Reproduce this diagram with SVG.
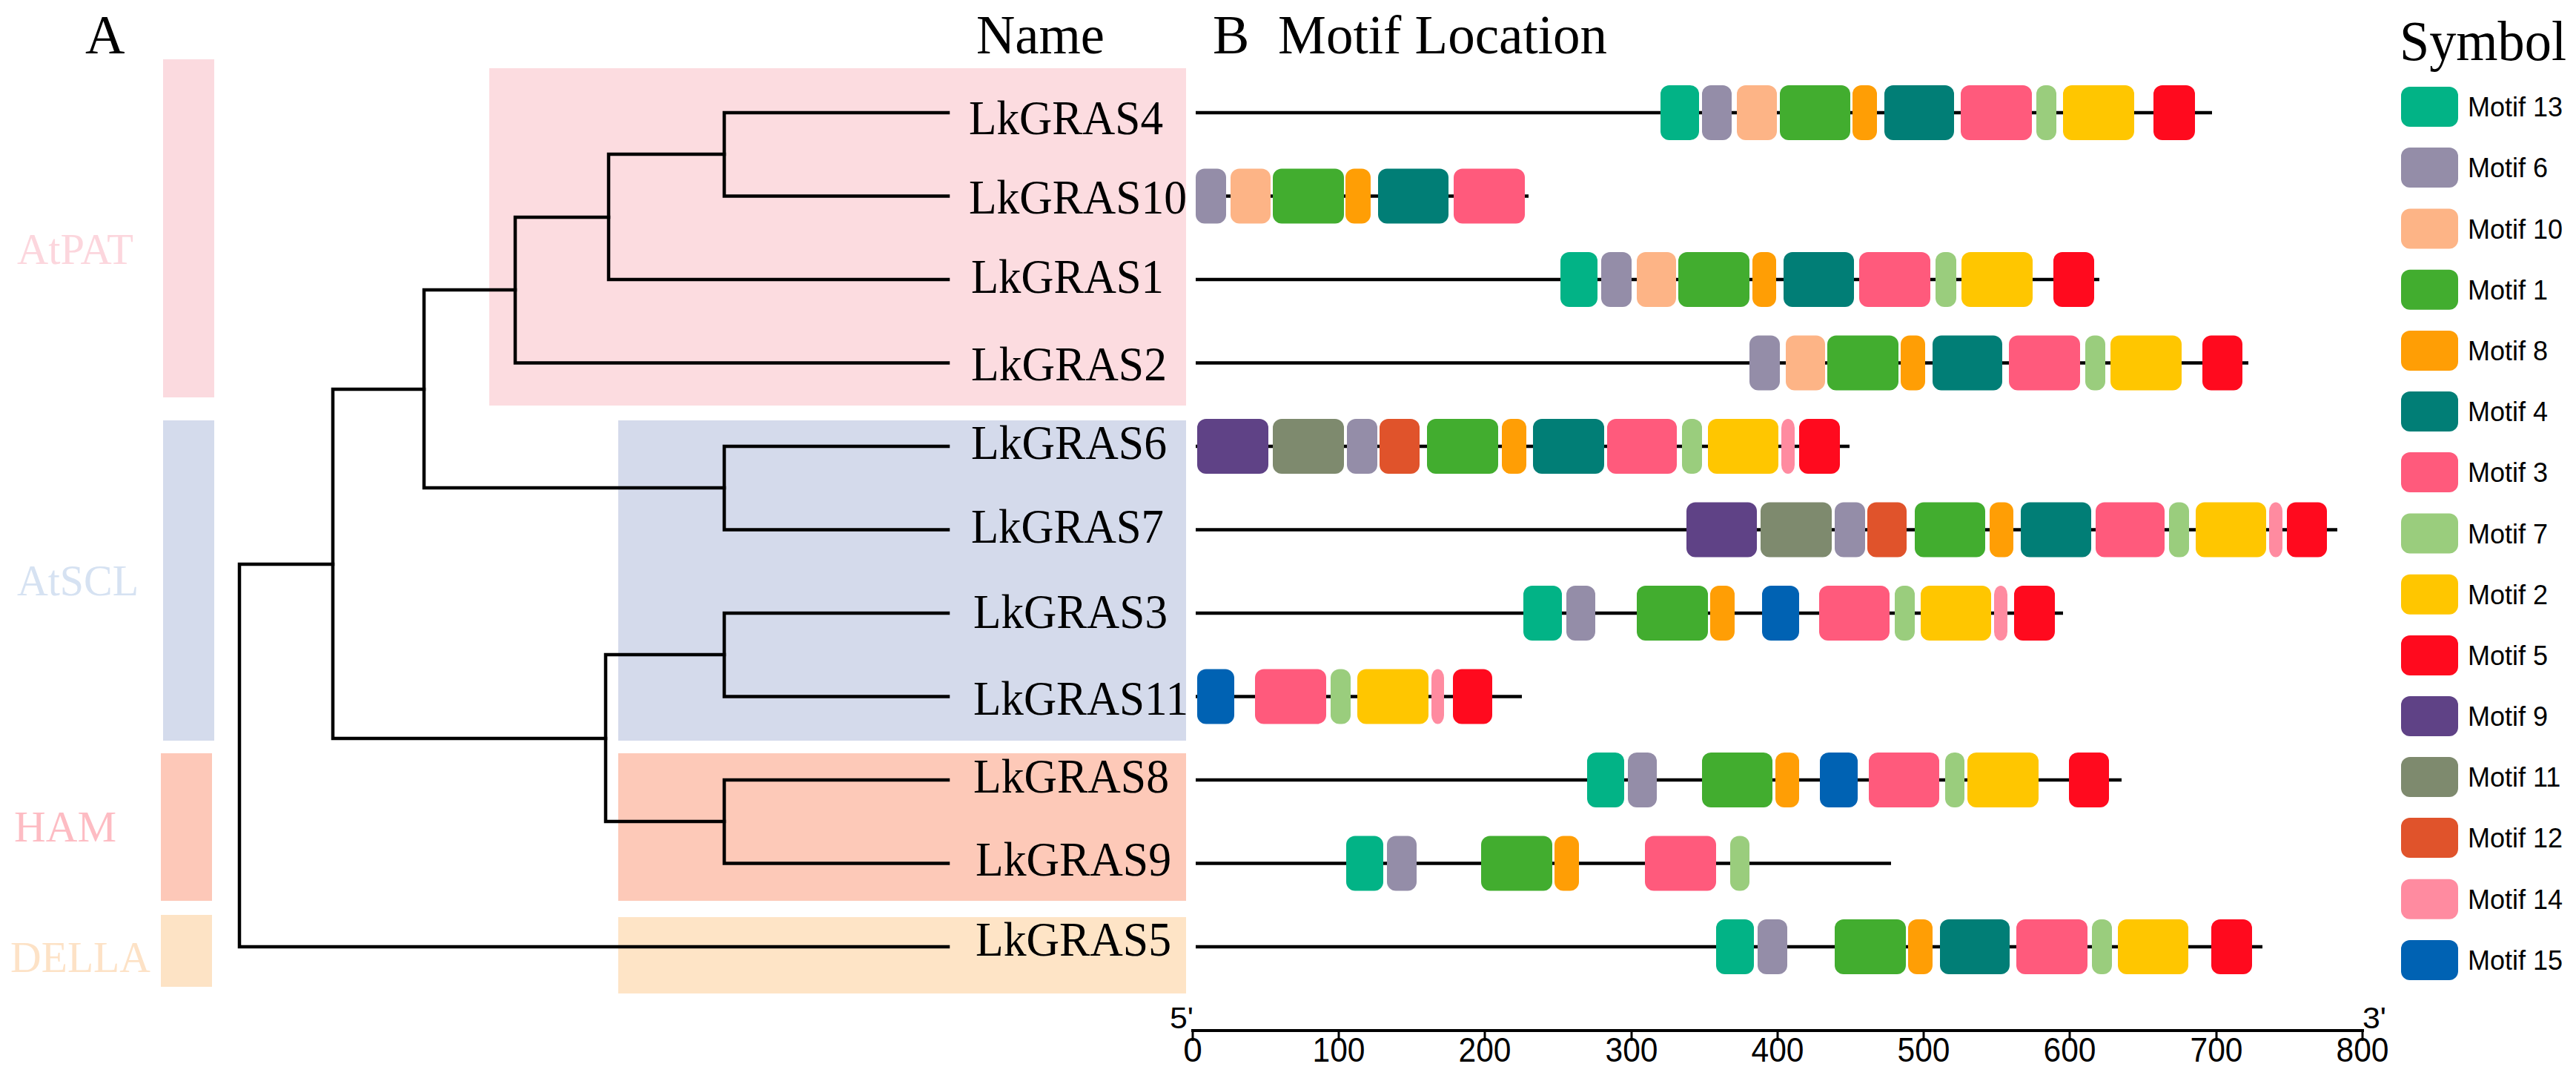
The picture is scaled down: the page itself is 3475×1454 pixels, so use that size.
<svg xmlns="http://www.w3.org/2000/svg" width="3475" height="1454" viewBox="0 0 3475 1454">
<style>
.serif{font-family:"Liberation Serif","Times New Roman",serif;fill:#000}
.sans{font-family:"Liberation Sans",Arial,sans-serif;fill:#000}
.hdr{font-size:74px}
.gene{font-size:66px}
.grp{font-size:60px}
.leg{font-size:36px}
.num{font-size:46px}
.bb{stroke:#000;stroke-width:4.5;fill:none}
.tree{stroke:#000;stroke-width:4.5;fill:none;stroke-linecap:square;stroke-linejoin:miter}
.m{rx:12px;ry:12px}
.m1{fill:#42AD2F}.m2{fill:#FFC600}.m3{fill:#FF5A7C}.m4{fill:#017E76}.m5{fill:#FF0A1E}
.m6{fill:#948DA8}.m7{fill:#9ACD7D}.m8{fill:#FF9E05}.m9{fill:#5F4286}.m10{fill:#FDB486}
.m11{fill:#7E8A6E}.m12{fill:#E0532B}.m13{fill:#02B386}.m14{fill:#FF8BA0}.m15{fill:#0062B3}
</style>
<rect x="0" y="0" width="3475" height="1454" fill="#fff"/>

<g id="group-bars">
<rect x="220" y="80" width="69" height="456" fill="#FBDADF"/>
<rect x="220" y="567" width="69" height="432" fill="#D4DBEC"/>
<rect x="217" y="1016" width="69" height="199" fill="#FDC8B8"/>
<rect x="217" y="1234" width="69" height="97" fill="#FDE3C5"/>
<text class="serif grp" x="23" y="356" textLength="157" lengthAdjust="spacingAndGlyphs" style="fill:#FCD6DD">AtPAT</text>
<text class="serif grp" x="23" y="803" textLength="164" lengthAdjust="spacingAndGlyphs" style="fill:#D6E2F2">AtSCL</text>
<text class="serif grp" x="19" y="1135" textLength="138" lengthAdjust="spacingAndGlyphs" style="fill:#FDBCC3">HAM</text>
<text class="serif grp" x="14" y="1311" textLength="189" lengthAdjust="spacingAndGlyphs" style="fill:#FDE2C6">DELLA</text>
</g>

<g id="clade-boxes">
<rect x="660" y="92" width="940" height="455" fill="#FCDCE0"/>
<rect x="834" y="567" width="766" height="432" fill="#D4DAEB"/>
<rect x="834" y="1016" width="766" height="199" fill="#FDC9B8"/>
<rect x="834" y="1237" width="766" height="103" fill="#FEE4C6"/>
</g>

<g id="headers">
<text class="serif hdr" x="115" y="72">A</text>
<text class="serif hdr" x="1317" y="72" textLength="173" lengthAdjust="spacingAndGlyphs">Name</text>
<text class="serif hdr" x="1636" y="72">B</text>
<text class="serif hdr" x="1724" y="72" textLength="444" lengthAdjust="spacingAndGlyphs">Motif Location</text>
<text class="serif" x="3237" y="81" font-size="76" textLength="225" lengthAdjust="spacingAndGlyphs">Symbol</text>
</g>

<g id="connectors">
<path class="tree" d="M1279 152 H977 V264.5 H1279"/>
<path class="tree" d="M977 208 H821 V377 H1279"/>
<path class="tree" d="M821 293 H695 V489.5 H1279"/>
<path class="tree" d="M695 391 H572 V658 H977"/>
<path class="tree" d="M1279 602 H977 V714.5 H1279"/>
<path class="tree" d="M572 525 H449 V996 H817"/>
<path class="tree" d="M1279 827 H977 V939.5 H1279"/>
<path class="tree" d="M1279 1052 H977 V1164.5 H1279"/>
<path class="tree" d="M977 883 H817 V1108 H977"/>
<path class="tree" d="M449 761 H323 V1277 H1279"/>
</g>

<g id="LkGRAS4">
<text class="serif gene" x="1307" y="181" textLength="262" lengthAdjust="spacingAndGlyphs">LkGRAS4</text>
<line class="bb" x1="1613" y1="152" x2="2984" y2="152"/>
<rect class="m m13" x="2240" y="115" width="52" height="74"/>
<rect class="m m6" x="2296" y="115" width="40" height="74"/>
<rect class="m m10" x="2343" y="115" width="54" height="74"/>
<rect class="m m1" x="2401" y="115" width="95" height="74"/>
<rect class="m m8" x="2499" y="115" width="33" height="74"/>
<rect class="m m4" x="2542" y="115" width="94" height="74"/>
<rect class="m m3" x="2645" y="115" width="96" height="74"/>
<rect class="m m7" x="2747" y="115" width="27" height="74"/>
<rect class="m m2" x="2783" y="115" width="96" height="74"/>
<rect class="m m5" x="2905" y="115" width="56" height="74"/>
</g>

<g id="LkGRAS10">
<text class="serif gene" x="1307" y="288" textLength="294" lengthAdjust="spacingAndGlyphs">LkGRAS10</text>
<line class="bb" x1="1613" y1="264.5" x2="2062" y2="264.5"/>
<rect class="m m6" x="1613" y="227.5" width="41" height="74"/>
<rect class="m m10" x="1660" y="227.5" width="54" height="74"/>
<rect class="m m1" x="1717" y="227.5" width="96" height="74"/>
<rect class="m m8" x="1815" y="227.5" width="34" height="74"/>
<rect class="m m4" x="1859" y="227.5" width="95" height="74"/>
<rect class="m m3" x="1961" y="227.5" width="96" height="74"/>
</g>

<g id="LkGRAS1">
<text class="serif gene" x="1310" y="395" textLength="260" lengthAdjust="spacingAndGlyphs">LkGRAS1</text>
<line class="bb" x1="1613" y1="377" x2="2832" y2="377"/>
<rect class="m m13" x="2105" y="340" width="50" height="74"/>
<rect class="m m6" x="2160" y="340" width="41" height="74"/>
<rect class="m m10" x="2208" y="340" width="53" height="74"/>
<rect class="m m1" x="2264" y="340" width="96" height="74"/>
<rect class="m m8" x="2364" y="340" width="32" height="74"/>
<rect class="m m4" x="2406" y="340" width="95" height="74"/>
<rect class="m m3" x="2508" y="340" width="96" height="74"/>
<rect class="m m7" x="2611" y="340" width="28" height="74"/>
<rect class="m m2" x="2646" y="340" width="96" height="74"/>
<rect class="m m5" x="2770" y="340" width="55" height="74"/>
</g>

<g id="LkGRAS2">
<text class="serif gene" x="1310" y="513" textLength="264" lengthAdjust="spacingAndGlyphs">LkGRAS2</text>
<line class="bb" x1="1613" y1="489.5" x2="3033" y2="489.5"/>
<rect class="m m6" x="2360" y="452.5" width="41" height="74"/>
<rect class="m m10" x="2409" y="452.5" width="53" height="74"/>
<rect class="m m1" x="2465" y="452.5" width="96" height="74"/>
<rect class="m m8" x="2564" y="452.5" width="33" height="74"/>
<rect class="m m4" x="2607" y="452.5" width="94" height="74"/>
<rect class="m m3" x="2710" y="452.5" width="96" height="74"/>
<rect class="m m7" x="2813" y="452.5" width="27" height="74"/>
<rect class="m m2" x="2847" y="452.5" width="96" height="74"/>
<rect class="m m5" x="2971" y="452.5" width="54" height="74"/>
</g>

<g id="LkGRAS6">
<text class="serif gene" x="1310" y="619" textLength="264" lengthAdjust="spacingAndGlyphs">LkGRAS6</text>
<line class="bb" x1="1613" y1="602" x2="2495" y2="602"/>
<rect class="m m9" x="1615" y="565" width="96" height="74"/>
<rect class="m m11" x="1717" y="565" width="96" height="74"/>
<rect class="m m6" x="1817" y="565" width="41" height="74"/>
<rect class="m m12" x="1861" y="565" width="54" height="74"/>
<rect class="m m1" x="1925" y="565" width="96" height="74"/>
<rect class="m m8" x="2026" y="565" width="33" height="74"/>
<rect class="m m4" x="2068" y="565" width="96" height="74"/>
<rect class="m m3" x="2168" y="565" width="94" height="74"/>
<rect class="m m7" x="2269" y="565" width="27" height="74"/>
<rect class="m m2" x="2304" y="565" width="95" height="74"/>
<rect class="m m14" x="2403" y="565" width="18" height="74" rx="4" ry="4"/>
<rect class="m m5" x="2427" y="565" width="55" height="74"/>
</g>

<g id="LkGRAS7">
<text class="serif gene" x="1310" y="732" textLength="260" lengthAdjust="spacingAndGlyphs">LkGRAS7</text>
<line class="bb" x1="1613" y1="714.5" x2="3153" y2="714.5"/>
<rect class="m m9" x="2275" y="677.5" width="95" height="74"/>
<rect class="m m11" x="2375" y="677.5" width="96" height="74"/>
<rect class="m m6" x="2475" y="677.5" width="41" height="74"/>
<rect class="m m12" x="2519" y="677.5" width="53" height="74"/>
<rect class="m m1" x="2583" y="677.5" width="95" height="74"/>
<rect class="m m8" x="2684" y="677.5" width="32" height="74"/>
<rect class="m m4" x="2726" y="677.5" width="95" height="74"/>
<rect class="m m3" x="2827" y="677.5" width="93" height="74"/>
<rect class="m m7" x="2926" y="677.5" width="27" height="74"/>
<rect class="m m2" x="2962" y="677.5" width="95" height="74"/>
<rect class="m m14" x="3061" y="677.5" width="18" height="74" rx="4" ry="4"/>
<rect class="m m5" x="3085" y="677.5" width="54" height="74"/>
</g>

<g id="LkGRAS3">
<text class="serif gene" x="1313" y="847" textLength="262" lengthAdjust="spacingAndGlyphs">LkGRAS3</text>
<line class="bb" x1="1613" y1="827" x2="2783" y2="827"/>
<rect class="m m13" x="2055" y="790" width="52" height="74"/>
<rect class="m m6" x="2113" y="790" width="39" height="74"/>
<rect class="m m1" x="2208" y="790" width="96" height="74"/>
<rect class="m m8" x="2307" y="790" width="33" height="74"/>
<rect class="m m15" x="2377" y="790" width="50" height="74"/>
<rect class="m m3" x="2454" y="790" width="95" height="74"/>
<rect class="m m7" x="2556" y="790" width="27" height="74"/>
<rect class="m m2" x="2591" y="790" width="95" height="74"/>
<rect class="m m14" x="2690" y="790" width="18" height="74" rx="4" ry="4"/>
<rect class="m m5" x="2717" y="790" width="55" height="74"/>
</g>

<g id="LkGRAS11">
<text class="serif gene" x="1313" y="964" textLength="290" lengthAdjust="spacingAndGlyphs">LkGRAS11</text>
<line class="bb" x1="1613" y1="939.5" x2="2053" y2="939.5"/>
<rect class="m m15" x="1615" y="902.5" width="50" height="74"/>
<rect class="m m3" x="1693" y="902.5" width="96" height="74"/>
<rect class="m m7" x="1795" y="902.5" width="27" height="74"/>
<rect class="m m2" x="1831" y="902.5" width="96" height="74"/>
<rect class="m m14" x="1931" y="902.5" width="17" height="74" rx="4" ry="4"/>
<rect class="m m5" x="1960" y="902.5" width="53" height="74"/>
</g>

<g id="LkGRAS8">
<text class="serif gene" x="1313" y="1069" textLength="264" lengthAdjust="spacingAndGlyphs">LkGRAS8</text>
<line class="bb" x1="1613" y1="1052" x2="2862" y2="1052"/>
<rect class="m m13" x="2141" y="1015" width="50" height="74"/>
<rect class="m m6" x="2196" y="1015" width="39" height="74"/>
<rect class="m m1" x="2296" y="1015" width="95" height="74"/>
<rect class="m m8" x="2395" y="1015" width="32" height="74"/>
<rect class="m m15" x="2455" y="1015" width="51" height="74"/>
<rect class="m m3" x="2521" y="1015" width="95" height="74"/>
<rect class="m m7" x="2624" y="1015" width="26" height="74"/>
<rect class="m m2" x="2654" y="1015" width="96" height="74"/>
<rect class="m m5" x="2791" y="1015" width="54" height="74"/>
</g>

<g id="LkGRAS9">
<text class="serif gene" x="1316" y="1181" textLength="264" lengthAdjust="spacingAndGlyphs">LkGRAS9</text>
<line class="bb" x1="1613" y1="1164.5" x2="2551" y2="1164.5"/>
<rect class="m m13" x="1816" y="1127.5" width="50" height="74"/>
<rect class="m m6" x="1871" y="1127.5" width="40" height="74"/>
<rect class="m m1" x="1998" y="1127.5" width="96" height="74"/>
<rect class="m m8" x="2097" y="1127.5" width="33" height="74"/>
<rect class="m m3" x="2219" y="1127.5" width="96" height="74"/>
<rect class="m m7" x="2334" y="1127.5" width="26" height="74"/>
</g>

<g id="LkGRAS5">
<text class="serif gene" x="1316" y="1289" textLength="264" lengthAdjust="spacingAndGlyphs">LkGRAS5</text>
<line class="bb" x1="1613" y1="1277" x2="3052" y2="1277"/>
<rect class="m m13" x="2315" y="1240" width="51" height="74"/>
<rect class="m m6" x="2371" y="1240" width="40" height="74"/>
<rect class="m m1" x="2475" y="1240" width="96" height="74"/>
<rect class="m m8" x="2574" y="1240" width="33" height="74"/>
<rect class="m m4" x="2617" y="1240" width="94" height="74"/>
<rect class="m m3" x="2720" y="1240" width="96" height="74"/>
<rect class="m m7" x="2822" y="1240" width="27" height="74"/>
<rect class="m m2" x="2857" y="1240" width="95" height="74"/>
<rect class="m m5" x="2983" y="1240" width="55" height="74"/>
</g>

<g id="axis">
<line x1="1607" y1="1390" x2="3189" y2="1390" stroke="#000" stroke-width="4"/>
<g stroke="#000" stroke-width="3">
<line x1="1609" y1="1390" x2="1609" y2="1404"/>
<line x1="1806" y1="1390" x2="1806" y2="1404"/>
<line x1="2003" y1="1390" x2="2003" y2="1404"/>
<line x1="2201" y1="1390" x2="2201" y2="1404"/>
<line x1="2398" y1="1390" x2="2398" y2="1404"/>
<line x1="2595" y1="1390" x2="2595" y2="1404"/>
<line x1="2792" y1="1390" x2="2792" y2="1404"/>
<line x1="2990" y1="1390" x2="2990" y2="1404"/>
<line x1="3187" y1="1390" x2="3187" y2="1404"/>
</g>
<text class="sans" x="1578" y="1387" font-size="40" textLength="32" lengthAdjust="spacingAndGlyphs">5'</text>
<text class="sans" x="3187" y="1387" font-size="40" textLength="32" lengthAdjust="spacingAndGlyphs">3'</text>
<g class="sans num" text-anchor="middle">
<text x="1609" y="1432">0</text>
<text x="1806" y="1432" textLength="71" lengthAdjust="spacingAndGlyphs">100</text>
<text x="2003" y="1432" textLength="71" lengthAdjust="spacingAndGlyphs">200</text>
<text x="2201" y="1432" textLength="71" lengthAdjust="spacingAndGlyphs">300</text>
<text x="2398" y="1432" textLength="71" lengthAdjust="spacingAndGlyphs">400</text>
<text x="2595" y="1432" textLength="71" lengthAdjust="spacingAndGlyphs">500</text>
<text x="2792" y="1432" textLength="71" lengthAdjust="spacingAndGlyphs">600</text>
<text x="2990" y="1432" textLength="71" lengthAdjust="spacingAndGlyphs">700</text>
<text x="3187" y="1432" textLength="71" lengthAdjust="spacingAndGlyphs">800</text>
</g>
</g>

<g id="legend">
<rect class="m m13" x="3239" y="117" width="77" height="54"/><text class="sans leg" x="3329" y="157">Motif 13</text>
<rect class="m m6" x="3239" y="199" width="77" height="54"/><text class="sans leg" x="3329" y="239">Motif 6</text>
<rect class="m m10" x="3239" y="281.5" width="77" height="54"/><text class="sans leg" x="3329" y="321.5">Motif 10</text>
<rect class="m m1" x="3239" y="363.7" width="77" height="54"/><text class="sans leg" x="3329" y="403.7">Motif 1</text>
<rect class="m m8" x="3239" y="446" width="77" height="54"/><text class="sans leg" x="3329" y="486">Motif 8</text>
<rect class="m m4" x="3239" y="528" width="77" height="54"/><text class="sans leg" x="3329" y="568">Motif 4</text>
<rect class="m m3" x="3239" y="610" width="77" height="54"/><text class="sans leg" x="3329" y="650">Motif 3</text>
<rect class="m m7" x="3239" y="692.5" width="77" height="54"/><text class="sans leg" x="3329" y="732.5">Motif 7</text>
<rect class="m m2" x="3239" y="774.7" width="77" height="54"/><text class="sans leg" x="3329" y="814.7">Motif 2</text>
<rect class="m m5" x="3239" y="857" width="77" height="54"/><text class="sans leg" x="3329" y="897">Motif 5</text>
<rect class="m m9" x="3239" y="939" width="77" height="54"/><text class="sans leg" x="3329" y="979">Motif 9</text>
<rect class="m m11" x="3239" y="1021" width="77" height="54"/><text class="sans leg" x="3329" y="1061">Motif 11</text>
<rect class="m m12" x="3239" y="1103" width="77" height="54"/><text class="sans leg" x="3329" y="1143">Motif 12</text>
<rect class="m m14" x="3239" y="1185.8" width="77" height="54"/><text class="sans leg" x="3329" y="1225.8">Motif 14</text>
<rect class="m m15" x="3239" y="1268" width="77" height="54"/><text class="sans leg" x="3329" y="1308">Motif 15</text>
</g>
</svg>
